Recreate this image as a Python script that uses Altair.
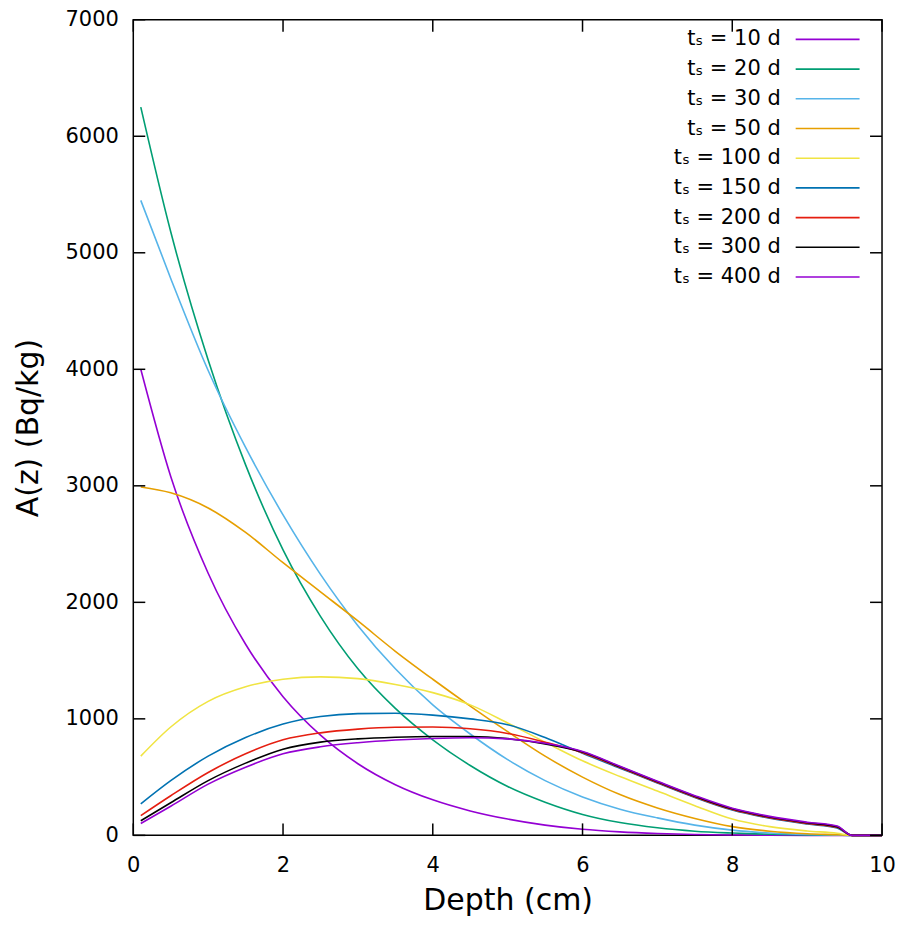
import altair as alt
import pandas as pd

depth = [0.1, 0.5, 1, 1.5, 2, 2.5, 3, 3.5, 4, 4.5, 5, 5.5, 6, 6.5, 7, 7.5, 8, 8.5, 9, 9.4, 9.6, 10]

series_labels = ["tₛ = 10 d", "tₛ = 20 d", "tₛ = 30 d", "tₛ = 50 d", "tₛ = 100 d",
                 "tₛ = 150 d", "tₛ = 200 d", "tₛ = 300 d", "tₛ = 400 d"]
colors = ["#9400d3", "#009e73", "#56b4e9", "#e69f00", "#f0e442",
          "#0072b2", "#e51e10", "#000000", "#9400d3"]

a10 = [4000, 3080, 2250, 1640, 1190, 860, 615, 435, 305, 210, 140, 88, 52, 30, 16, 7, 3, 1, 0, 0, 0, 0]
a20 = [6250, 5180, 4080, 3180, 2450, 1880, 1430, 1090, 820, 600, 420, 285, 180, 110, 65, 36, 20, 9, 3, 1, 0, 0]
a30 = [5450, 4780, 3990, 3330, 2750, 2240, 1800, 1430, 1120, 870, 650, 470, 330, 225, 150, 88, 45, 20, 7, 2, 0, 0]
a50 = [2990, 2940, 2810, 2600, 2340, 2090, 1840, 1580, 1340, 1110, 890, 680, 500, 350, 235, 145, 75, 36, 14, 5, 0, 0]
a100 = [680, 930, 1150, 1275, 1340, 1360, 1345, 1295, 1225, 1120, 965, 800, 640, 505, 380, 255, 140, 75, 38, 18, 0, 0]
a150 = [271, 470, 680, 840, 955, 1020, 1045, 1048, 1032, 1000, 950, 840, 705, 577, 449, 325, 217, 147, 97, 64, 0, 0]
a200 = [169, 340, 540, 700, 820, 880, 912, 928, 930, 915, 875, 800, 709, 582, 454, 330, 222, 152, 102, 69, 0, 0]
a300 = [126, 280, 470, 620, 740, 800, 828, 842, 848, 848, 830, 785, 715, 588, 460, 336, 228, 158, 108, 75, 0, 0]
a400 = [102, 250, 440, 585, 700, 760, 795, 818, 832, 838, 828, 790, 720, 593, 465, 341, 233, 163, 113, 80, 0, 0]

x_ticks = [0, 2, 4, 6, 8, 10]
y_ticks = [0, 1000, 2000, 3000, 4000, 5000, 6000, 7000]

all_series = [a10, a20, a30, a50, a100, a150, a200, a300, a400]

rows = []
for lab, vals in zip(series_labels, all_series):
    for xv, yv in zip(depth, vals):
        rows.append({"series": lab, "depth": xv, "A": yv})
df = pd.DataFrame(rows)

W, H = 750, 817
FONT = "DejaVu Sans"

xscale = alt.Scale(domain=[0, 10], nice=False)
yscale = alt.Scale(domain=[0, 7000], nice=False)
x_axis = alt.Axis(values=x_ticks, format="d", labelPadding=19, labelFlush=False,
                  title="Depth (cm)", titlePadding=10)
y_axis = alt.Axis(values=y_ticks, format="d", labelPadding=15, labelFlush=False,
                  title="A(z) (Bq/kg)", titlePadding=22)

color = alt.Color("series:N", scale=alt.Scale(domain=series_labels, range=colors), legend=None)

lines = alt.Chart(df).mark_line(strokeWidth=1.6, interpolate="monotone").encode(
    x=alt.X("depth:Q", scale=xscale, axis=x_axis),
    y=alt.Y("A:Q", scale=yscale, axis=y_axis),
    color=color,
)

yt = pd.DataFrame({"A": y_ticks})
xt = pd.DataFrame({"depth": x_ticks})
TICK = 12
tick_left = alt.Chart(yt).mark_rule(color="black", strokeWidth=1.5).encode(
    y=alt.Y("A:Q", scale=yscale, axis=y_axis), x=alt.value(0), x2=alt.value(TICK))
tick_right = alt.Chart(yt).mark_rule(color="black", strokeWidth=1.5).encode(
    y=alt.Y("A:Q", scale=yscale, axis=y_axis), x=alt.value(W - TICK), x2=alt.value(W))
tick_bottom = alt.Chart(xt).mark_rule(color="black", strokeWidth=1.5).encode(
    x=alt.X("depth:Q", scale=xscale, axis=x_axis), y=alt.value(H), y2=alt.value(H - TICK))
tick_top = alt.Chart(xt).mark_rule(color="black", strokeWidth=1.5).encode(
    x=alt.X("depth:Q", scale=xscale, axis=x_axis), y=alt.value(0), y2=alt.value(TICK))

main = alt.layer(lines, tick_left, tick_right, tick_bottom, tick_top)

leg_df = pd.DataFrame({"series": series_labels, "row": list(range(len(series_labels)))})
leg_y = alt.Y("row:Q", scale=alt.Scale(domain=[0, 8], range=[19.7, 257.7]), axis=None)
leg_text = alt.Chart(leg_df).mark_text(align="right", baseline="middle", font=FONT,
                                       fontSize=21, color="black").encode(
    x=alt.value(648.5), y=leg_y, text="series:N")
leg_rule = alt.Chart(leg_df).mark_rule(strokeWidth=1.6).encode(
    x=alt.value(663.5), x2=alt.value(727.5), y=leg_y, color=color)

chart = alt.layer(main, leg_text, leg_rule).resolve_scale(y="independent").properties(
    width=W, height=H,
    background="white",
    autosize=alt.AutoSizeParams(type="none"),
    padding={"left": 125.5, "top": 11, "right": 14, "bottom": 83},
).configure_view(stroke="black", strokeWidth=1.5).configure_axis(
    labelFont=FONT, labelFontSize=21, labelColor="black",
    titleFont=FONT, titleFontSize=30, titleFontWeight="normal", titleColor="black",
    grid=False, ticks=False, domain=False,
)

chart.save("out.html", embed_options={"renderer": "svg", "actions": False})
